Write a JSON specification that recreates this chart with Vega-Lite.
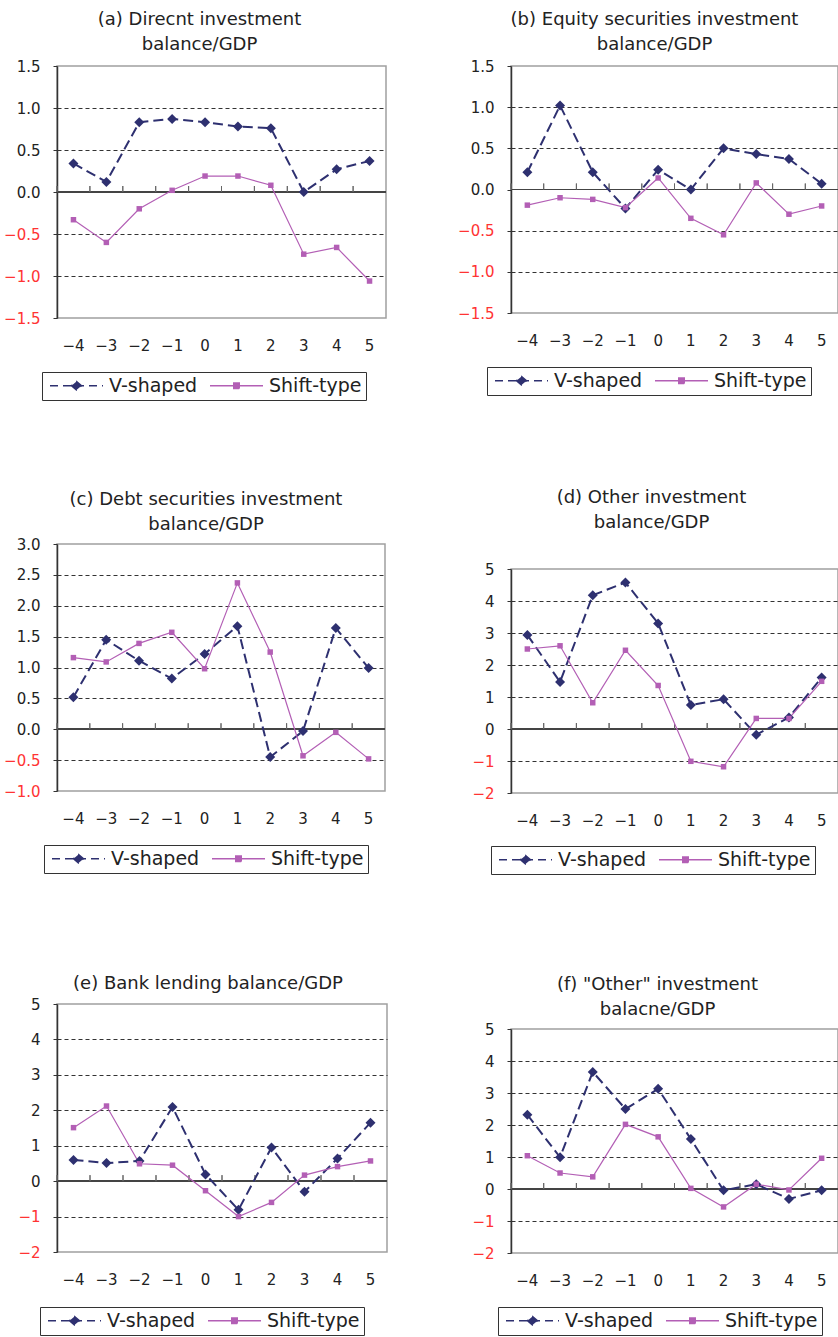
{
"$schema":"https://vega.github.io/schema/vega-lite/v6.json",
"padding":{"left":0,"top":10,"right":0,"bottom":0},
"datasets":{"d":[
{"p":"a","s":"V-shaped","t":-4,"v":0.34},{"p":"a","s":"V-shaped","t":-3,"v":0.12},{"p":"a","s":"V-shaped","t":-2,"v":0.83},{"p":"a","s":"V-shaped","t":-1,"v":0.87},{"p":"a","s":"V-shaped","t":0,"v":0.83},{"p":"a","s":"V-shaped","t":1,"v":0.78},{"p":"a","s":"V-shaped","t":2,"v":0.76},{"p":"a","s":"V-shaped","t":3,"v":0.0},{"p":"a","s":"V-shaped","t":4,"v":0.27},{"p":"a","s":"V-shaped","t":5,"v":0.37},
{"p":"a","s":"Shift-type","t":-4,"v":-0.33},{"p":"a","s":"Shift-type","t":-3,"v":-0.60},{"p":"a","s":"Shift-type","t":-2,"v":-0.20},{"p":"a","s":"Shift-type","t":-1,"v":0.02},{"p":"a","s":"Shift-type","t":0,"v":0.19},{"p":"a","s":"Shift-type","t":1,"v":0.19},{"p":"a","s":"Shift-type","t":2,"v":0.08},{"p":"a","s":"Shift-type","t":3,"v":-0.74},{"p":"a","s":"Shift-type","t":4,"v":-0.66},{"p":"a","s":"Shift-type","t":5,"v":-1.06},
{"p":"b","s":"V-shaped","t":-4,"v":0.21},{"p":"b","s":"V-shaped","t":-3,"v":1.02},{"p":"b","s":"V-shaped","t":-2,"v":0.21},{"p":"b","s":"V-shaped","t":-1,"v":-0.23},{"p":"b","s":"V-shaped","t":0,"v":0.24},{"p":"b","s":"V-shaped","t":1,"v":0.0},{"p":"b","s":"V-shaped","t":2,"v":0.50},{"p":"b","s":"V-shaped","t":3,"v":0.43},{"p":"b","s":"V-shaped","t":4,"v":0.37},{"p":"b","s":"V-shaped","t":5,"v":0.07},
{"p":"b","s":"Shift-type","t":-4,"v":-0.19},{"p":"b","s":"Shift-type","t":-3,"v":-0.10},{"p":"b","s":"Shift-type","t":-2,"v":-0.12},{"p":"b","s":"Shift-type","t":-1,"v":-0.22},{"p":"b","s":"Shift-type","t":0,"v":0.14},{"p":"b","s":"Shift-type","t":1,"v":-0.35},{"p":"b","s":"Shift-type","t":2,"v":-0.55},{"p":"b","s":"Shift-type","t":3,"v":0.08},{"p":"b","s":"Shift-type","t":4,"v":-0.30},{"p":"b","s":"Shift-type","t":5,"v":-0.20},
{"p":"c","s":"V-shaped","t":-4,"v":0.52},{"p":"c","s":"V-shaped","t":-3,"v":1.45},{"p":"c","s":"V-shaped","t":-2,"v":1.11},{"p":"c","s":"V-shaped","t":-1,"v":0.82},{"p":"c","s":"V-shaped","t":0,"v":1.22},{"p":"c","s":"V-shaped","t":1,"v":1.67},{"p":"c","s":"V-shaped","t":2,"v":-0.45},{"p":"c","s":"V-shaped","t":3,"v":-0.03},{"p":"c","s":"V-shaped","t":4,"v":1.64},{"p":"c","s":"V-shaped","t":5,"v":0.99},
{"p":"c","s":"Shift-type","t":-4,"v":1.16},{"p":"c","s":"Shift-type","t":-3,"v":1.09},{"p":"c","s":"Shift-type","t":-2,"v":1.39},{"p":"c","s":"Shift-type","t":-1,"v":1.57},{"p":"c","s":"Shift-type","t":0,"v":0.98},{"p":"c","s":"Shift-type","t":1,"v":2.37},{"p":"c","s":"Shift-type","t":2,"v":1.25},{"p":"c","s":"Shift-type","t":3,"v":-0.43},{"p":"c","s":"Shift-type","t":4,"v":-0.05},{"p":"c","s":"Shift-type","t":5,"v":-0.48},
{"p":"d","s":"V-shaped","t":-4,"v":2.94},{"p":"d","s":"V-shaped","t":-3,"v":1.47},{"p":"d","s":"V-shaped","t":-2,"v":4.18},{"p":"d","s":"V-shaped","t":-1,"v":4.58},{"p":"d","s":"V-shaped","t":0,"v":3.30},{"p":"d","s":"V-shaped","t":1,"v":0.75},{"p":"d","s":"V-shaped","t":2,"v":0.93},{"p":"d","s":"V-shaped","t":3,"v":-0.18},{"p":"d","s":"V-shaped","t":4,"v":0.36},{"p":"d","s":"V-shaped","t":5,"v":1.61},
{"p":"d","s":"Shift-type","t":-4,"v":2.50},{"p":"d","s":"Shift-type","t":-3,"v":2.60},{"p":"d","s":"Shift-type","t":-2,"v":0.82},{"p":"d","s":"Shift-type","t":-1,"v":2.46},{"p":"d","s":"Shift-type","t":0,"v":1.36},{"p":"d","s":"Shift-type","t":1,"v":-1.01},{"p":"d","s":"Shift-type","t":2,"v":-1.18},{"p":"d","s":"Shift-type","t":3,"v":0.33},{"p":"d","s":"Shift-type","t":4,"v":0.33},{"p":"d","s":"Shift-type","t":5,"v":1.49},
{"p":"e","s":"V-shaped","t":-4,"v":0.60},{"p":"e","s":"V-shaped","t":-3,"v":0.51},{"p":"e","s":"V-shaped","t":-2,"v":0.57},{"p":"e","s":"V-shaped","t":-1,"v":2.09},{"p":"e","s":"V-shaped","t":0,"v":0.19},{"p":"e","s":"V-shaped","t":1,"v":-0.81},{"p":"e","s":"V-shaped","t":2,"v":0.95},{"p":"e","s":"V-shaped","t":3,"v":-0.30},{"p":"e","s":"V-shaped","t":4,"v":0.64},{"p":"e","s":"V-shaped","t":5,"v":1.65},
{"p":"e","s":"Shift-type","t":-4,"v":1.51},{"p":"e","s":"Shift-type","t":-3,"v":2.12},{"p":"e","s":"Shift-type","t":-2,"v":0.49},{"p":"e","s":"Shift-type","t":-1,"v":0.45},{"p":"e","s":"Shift-type","t":0,"v":-0.27},{"p":"e","s":"Shift-type","t":1,"v":-1.00},{"p":"e","s":"Shift-type","t":2,"v":-0.60},{"p":"e","s":"Shift-type","t":3,"v":0.17},{"p":"e","s":"Shift-type","t":4,"v":0.41},{"p":"e","s":"Shift-type","t":5,"v":0.57},
{"p":"f","s":"V-shaped","t":-4,"v":2.32},{"p":"f","s":"V-shaped","t":-3,"v":0.99},{"p":"f","s":"V-shaped","t":-2,"v":3.66},{"p":"f","s":"V-shaped","t":-1,"v":2.50},{"p":"f","s":"V-shaped","t":0,"v":3.13},{"p":"f","s":"V-shaped","t":1,"v":1.56},{"p":"f","s":"V-shaped","t":2,"v":-0.04},{"p":"f","s":"V-shaped","t":3,"v":0.15},{"p":"f","s":"V-shaped","t":4,"v":-0.31},{"p":"f","s":"V-shaped","t":5,"v":-0.04},
{"p":"f","s":"Shift-type","t":-4,"v":1.04},{"p":"f","s":"Shift-type","t":-3,"v":0.50},{"p":"f","s":"Shift-type","t":-2,"v":0.38},{"p":"f","s":"Shift-type","t":-1,"v":2.02},{"p":"f","s":"Shift-type","t":0,"v":1.63},{"p":"f","s":"Shift-type","t":1,"v":0.02},{"p":"f","s":"Shift-type","t":2,"v":-0.56},{"p":"f","s":"Shift-type","t":3,"v":0.15},{"p":"f","s":"Shift-type","t":4,"v":-0.03},{"p":"f","s":"Shift-type","t":5,"v":0.96}
]},
"data":{"name":"d"},
"spacing":65,
"resolve":{"scale":{"shape":"independent","fill":"independent","stroke":"independent","strokeDash":"independent"},"legend":{"shape":"independent","fill":"independent","stroke":"independent","strokeDash":"independent"}},
"hconcat":[
{"spacing":99,
"resolve":{"scale":{"shape":"independent","fill":"independent","stroke":"independent","strokeDash":"independent"},"legend":{"shape":"independent","fill":"independent","stroke":"independent","strokeDash":"independent"}},
"vconcat":[
{"spacing":88,
"resolve":{"scale":{"shape":"independent","fill":"independent","stroke":"independent","strokeDash":"independent"},"legend":{"shape":"independent","fill":"independent","stroke":"independent","strokeDash":"independent"}},
"vconcat":[
{"width":329,"height":252,
"title":{"text":["(a) Direcnt investment","balance/GDP"],"dx":-22,"offset":5},
"transform":[{"filter":"datum.p === 'a'"}],
"layer":[
{"mark":{"type":"rule","color":"#444","strokeWidth":1.2},"encoding":{"y":{"datum":0,"type":"quantitative"}}},
{"mark":{"type":"rule","color":"#666","strokeWidth":1,"y2Offset":-6},"encoding":{"x":{"field":"t","type":"ordinal","bandPosition":0},"y":{"datum":0,"type":"quantitative"},"y2":{"datum":0}}},
{"transform":[{"filter":"datum.s === 'V-shaped'"}],"mark":{"type":"line","color":"#2e3070","strokeWidth":2,"strokeDash":[10,5]},
"encoding":{"x":{"field":"t","type":"ordinal","title":null,"scale":{"type":"band","paddingInner":0,"paddingOuter":0},"axis":{"labelExpr":"replace(datum.label, '-', '−')"}},
"y":{"field":"v","type":"quantitative","title":null,"scale":{"domain":[-1.5,1.5],"nice":false,"zero":false},"axis":{"values":[-1.5,-1,-0.5,0,0.5,1,1.5],"tickCount":20,"format":".1f","labelColor":{"condition":{"test":"datum.value < 0","value":"#ff3333"},"value":"#222"},"gridOpacity":{"condition":{"test":"datum.value === 0 || abs(datum.value) === 1.5","value":0},"value":1}}}}},
{"transform":[{"filter":"datum.s === 'Shift-type'"}],"mark":{"type":"line","color":"#b35fb5","strokeWidth":1.2},"encoding":{"x":{"field":"t","type":"ordinal"},"y":{"field":"v","type":"quantitative"}}},
{"transform":[{"filter":"datum.s === 'V-shaped'"}],"mark":{"type":"point","shape":"diamond","filled":true,"size":100,"color":"#2e3070","opacity":1},"encoding":{"x":{"field":"t","type":"ordinal"},"y":{"field":"v","type":"quantitative"}}},
{"transform":[{"filter":"datum.s === 'Shift-type'"}],"mark":{"type":"point","shape":"square","filled":true,"size":30,"color":"#b35fb5","opacity":1},"encoding":{"x":{"field":"t","type":"ordinal"},"y":{"field":"v","type":"quantitative"}}},
{"mark":{"type":"point","filled":true,"opacity":0},"encoding":{"x":{"field":"t","type":"ordinal"},"y":{"field":"v","type":"quantitative"},
"shape":{"field":"s","type":"nominal","scale":{"domain":["V-shaped","Shift-type"],"range":["M-5.3,0L5.3,0M0,-0.85L1,0L0,0.85L-1,0Z","M-5.3,0L5.3,0M-0.55,-0.55L0.55,-0.55L0.55,0.55L-0.55,0.55Z"]},"legend":{"title":null,"legendX":-15,"legendY":306}},
"fill":{"field":"s","type":"nominal","scale":{"domain":["V-shaped","Shift-type"],"range":["#2e3070","#b35fb5"]},"legend":{"title":null,"legendX":-15,"legendY":306}},
"stroke":{"field":"s","type":"nominal","scale":{"domain":["V-shaped","Shift-type"],"range":["#2e3070","#b35fb5"]},"legend":{"title":null,"legendX":-15,"legendY":306}},
"strokeDash":{"field":"s","type":"nominal","scale":{"domain":["V-shaped","Shift-type"],"range":[[8,5],[1,0]]},"legend":{"title":null,"legendX":-15,"legendY":306}}}}
]},
{"width":328,"height":247,
"title":{"text":["(c) Debt securities investment","balance/GDP"],"dx":-15,"offset":3},
"transform":[{"filter":"datum.p === 'c'"}],
"layer":[
{"mark":{"type":"rule","color":"#444","strokeWidth":1.2},"encoding":{"y":{"datum":0,"type":"quantitative"}}},
{"mark":{"type":"rule","color":"#666","strokeWidth":1,"y2Offset":-6},"encoding":{"x":{"field":"t","type":"ordinal","bandPosition":0},"y":{"datum":0,"type":"quantitative"},"y2":{"datum":0}}},
{"transform":[{"filter":"datum.s === 'V-shaped'"}],"mark":{"type":"line","color":"#2e3070","strokeWidth":2,"strokeDash":[10,5]},
"encoding":{"x":{"field":"t","type":"ordinal","title":null,"scale":{"type":"band","paddingInner":0,"paddingOuter":0},"axis":{"labelExpr":"replace(datum.label, '-', '−')"}},
"y":{"field":"v","type":"quantitative","title":null,"scale":{"domain":[-1,3],"nice":false,"zero":false},"axis":{"values":[-1,-0.5,0,0.5,1,1.5,2,2.5,3],"tickCount":20,"format":".1f","labelColor":{"condition":{"test":"datum.value < 0","value":"#ff3333"},"value":"#222"},"gridOpacity":{"condition":{"test":"datum.value === 0 || datum.value === 3 || datum.value === -1","value":0},"value":1}}}}},
{"transform":[{"filter":"datum.s === 'Shift-type'"}],"mark":{"type":"line","color":"#b35fb5","strokeWidth":1.2},"encoding":{"x":{"field":"t","type":"ordinal"},"y":{"field":"v","type":"quantitative"}}},
{"transform":[{"filter":"datum.s === 'V-shaped'"}],"mark":{"type":"point","shape":"diamond","filled":true,"size":100,"color":"#2e3070","opacity":1},"encoding":{"x":{"field":"t","type":"ordinal"},"y":{"field":"v","type":"quantitative"}}},
{"transform":[{"filter":"datum.s === 'Shift-type'"}],"mark":{"type":"point","shape":"square","filled":true,"size":30,"color":"#b35fb5","opacity":1},"encoding":{"x":{"field":"t","type":"ordinal"},"y":{"field":"v","type":"quantitative"}}},
{"mark":{"type":"point","filled":true,"opacity":0},"encoding":{"x":{"field":"t","type":"ordinal"},"y":{"field":"v","type":"quantitative"},
"shape":{"field":"s","type":"nominal","scale":{"domain":["V-shaped","Shift-type"],"range":["M-5.3,0L5.3,0M0,-0.85L1,0L0,0.85L-1,0Z","M-5.3,0L5.3,0M-0.55,-0.55L0.55,-0.55L0.55,0.55L-0.55,0.55Z"]},"legend":{"title":null,"legendX":-13,"legendY":301}},
"fill":{"field":"s","type":"nominal","scale":{"domain":["V-shaped","Shift-type"],"range":["#2e3070","#b35fb5"]},"legend":{"title":null,"legendX":-13,"legendY":301}},
"stroke":{"field":"s","type":"nominal","scale":{"domain":["V-shaped","Shift-type"],"range":["#2e3070","#b35fb5"]},"legend":{"title":null,"legendX":-13,"legendY":301}},
"strokeDash":{"field":"s","type":"nominal","scale":{"domain":["V-shaped","Shift-type"],"range":[[8,5],[1,0]]},"legend":{"title":null,"legendX":-13,"legendY":301}}}}
]}
]},
{"resolve":{"scale":{"shape":"independent","fill":"independent","stroke":"independent","strokeDash":"independent"},"legend":{"shape":"independent","fill":"independent","stroke":"independent","strokeDash":"independent"}},
"vconcat":[
{"width":330,"height":248,
"title":{"text":"(e) Bank lending balance/GDP","dx":-14,"offset":4},
"transform":[{"filter":"datum.p === 'e'"}],
"layer":[
{"mark":{"type":"rule","color":"#444","strokeWidth":1.2},"encoding":{"y":{"datum":0,"type":"quantitative"}}},
{"mark":{"type":"rule","color":"#666","strokeWidth":1,"y2Offset":-6},"encoding":{"x":{"field":"t","type":"ordinal","bandPosition":0},"y":{"datum":0,"type":"quantitative"},"y2":{"datum":0}}},
{"transform":[{"filter":"datum.s === 'V-shaped'"}],"mark":{"type":"line","color":"#2e3070","strokeWidth":2,"strokeDash":[10,5]},
"encoding":{"x":{"field":"t","type":"ordinal","title":null,"scale":{"type":"band","paddingInner":0,"paddingOuter":0},"axis":{"labelExpr":"replace(datum.label, '-', '−')"}},
"y":{"field":"v","type":"quantitative","title":null,"scale":{"domain":[-2,5],"nice":false,"zero":false},"axis":{"values":[-2,-1,0,1,2,3,4,5],"tickCount":20,"format":"d","labelColor":{"condition":{"test":"datum.value < 0","value":"#ff3333"},"value":"#222"},"gridOpacity":{"condition":{"test":"datum.value === 0 || datum.value === 5 || datum.value === -2","value":0},"value":1}}}}},
{"transform":[{"filter":"datum.s === 'Shift-type'"}],"mark":{"type":"line","color":"#b35fb5","strokeWidth":1.2},"encoding":{"x":{"field":"t","type":"ordinal"},"y":{"field":"v","type":"quantitative"}}},
{"transform":[{"filter":"datum.s === 'V-shaped'"}],"mark":{"type":"point","shape":"diamond","filled":true,"size":100,"color":"#2e3070","opacity":1},"encoding":{"x":{"field":"t","type":"ordinal"},"y":{"field":"v","type":"quantitative"}}},
{"transform":[{"filter":"datum.s === 'Shift-type'"}],"mark":{"type":"point","shape":"square","filled":true,"size":30,"color":"#b35fb5","opacity":1},"encoding":{"x":{"field":"t","type":"ordinal"},"y":{"field":"v","type":"quantitative"}}},
{"mark":{"type":"point","filled":true,"opacity":0},"encoding":{"x":{"field":"t","type":"ordinal"},"y":{"field":"v","type":"quantitative"},
"shape":{"field":"s","type":"nominal","scale":{"domain":["V-shaped","Shift-type"],"range":["M-5.3,0L5.3,0M0,-0.85L1,0L0,0.85L-1,0Z","M-5.3,0L5.3,0M-0.55,-0.55L0.55,-0.55L0.55,0.55L-0.55,0.55Z"]},"legend":{"title":null,"legendX":-17,"legendY":303}},
"fill":{"field":"s","type":"nominal","scale":{"domain":["V-shaped","Shift-type"],"range":["#2e3070","#b35fb5"]},"legend":{"title":null,"legendX":-17,"legendY":303}},
"stroke":{"field":"s","type":"nominal","scale":{"domain":["V-shaped","Shift-type"],"range":["#2e3070","#b35fb5"]},"legend":{"title":null,"legendX":-17,"legendY":303}},
"strokeDash":{"field":"s","type":"nominal","scale":{"domain":["V-shaped","Shift-type"],"range":[[8,5],[1,0]]},"legend":{"title":null,"legendX":-17,"legendY":303}}}}
]}
]}
]},
{"spacing":99,
"resolve":{"scale":{"shape":"independent","fill":"independent","stroke":"independent","strokeDash":"independent"},"legend":{"shape":"independent","fill":"independent","stroke":"independent","strokeDash":"independent"}},
"vconcat":[
{"spacing":91,
"resolve":{"scale":{"shape":"independent","fill":"independent","stroke":"independent","strokeDash":"independent"},"legend":{"shape":"independent","fill":"independent","stroke":"independent","strokeDash":"independent"}},
"vconcat":[
{"width":327,"height":247,
"title":{"text":["(b) Equity securities investment","balance/GDP"],"dx":-20,"offset":5},
"transform":[{"filter":"datum.p === 'b'"}],
"layer":[
{"mark":{"type":"rule","color":"#444","strokeWidth":1.2},"encoding":{"y":{"datum":0,"type":"quantitative"}}},
{"mark":{"type":"rule","color":"#666","strokeWidth":1,"y2Offset":-6},"encoding":{"x":{"field":"t","type":"ordinal","bandPosition":0},"y":{"datum":0,"type":"quantitative"},"y2":{"datum":0}}},
{"transform":[{"filter":"datum.s === 'V-shaped'"}],"mark":{"type":"line","color":"#2e3070","strokeWidth":2,"strokeDash":[10,5]},
"encoding":{"x":{"field":"t","type":"ordinal","title":null,"scale":{"type":"band","paddingInner":0,"paddingOuter":0},"axis":{"labelExpr":"replace(datum.label, '-', '−')"}},
"y":{"field":"v","type":"quantitative","title":null,"scale":{"domain":[-1.5,1.5],"nice":false,"zero":false},"axis":{"values":[-1.5,-1,-0.5,0,0.5,1,1.5],"tickCount":20,"format":".1f","labelColor":{"condition":{"test":"datum.value < 0","value":"#ff3333"},"value":"#222"},"gridOpacity":{"condition":{"test":"datum.value === 0 || abs(datum.value) === 1.5","value":0},"value":1}}}}},
{"transform":[{"filter":"datum.s === 'Shift-type'"}],"mark":{"type":"line","color":"#b35fb5","strokeWidth":1.2},"encoding":{"x":{"field":"t","type":"ordinal"},"y":{"field":"v","type":"quantitative"}}},
{"transform":[{"filter":"datum.s === 'V-shaped'"}],"mark":{"type":"point","shape":"diamond","filled":true,"size":100,"color":"#2e3070","opacity":1},"encoding":{"x":{"field":"t","type":"ordinal"},"y":{"field":"v","type":"quantitative"}}},
{"transform":[{"filter":"datum.s === 'Shift-type'"}],"mark":{"type":"point","shape":"square","filled":true,"size":30,"color":"#b35fb5","opacity":1},"encoding":{"x":{"field":"t","type":"ordinal"},"y":{"field":"v","type":"quantitative"}}},
{"mark":{"type":"point","filled":true,"opacity":0},"encoding":{"x":{"field":"t","type":"ordinal"},"y":{"field":"v","type":"quantitative"},
"shape":{"field":"s","type":"nominal","scale":{"domain":["V-shaped","Shift-type"],"range":["M-5.3,0L5.3,0M0,-0.85L1,0L0,0.85L-1,0Z","M-5.3,0L5.3,0M-0.55,-0.55L0.55,-0.55L0.55,0.55L-0.55,0.55Z"]},"legend":{"title":null,"legendX":-24,"legendY":301}},
"fill":{"field":"s","type":"nominal","scale":{"domain":["V-shaped","Shift-type"],"range":["#2e3070","#b35fb5"]},"legend":{"title":null,"legendX":-24,"legendY":301}},
"stroke":{"field":"s","type":"nominal","scale":{"domain":["V-shaped","Shift-type"],"range":["#2e3070","#b35fb5"]},"legend":{"title":null,"legendX":-24,"legendY":301}},
"strokeDash":{"field":"s","type":"nominal","scale":{"domain":["V-shaped","Shift-type"],"range":[[8,5],[1,0]]},"legend":{"title":null,"legendX":-24,"legendY":301}}}}
]},
{"width":327,"height":224,
"title":{"text":["(d) Other investment","balance/GDP"],"dx":-23,"offset":30},
"transform":[{"filter":"datum.p === 'd'"}],
"layer":[
{"mark":{"type":"rule","color":"#444","strokeWidth":1.2},"encoding":{"y":{"datum":0,"type":"quantitative"}}},
{"mark":{"type":"rule","color":"#666","strokeWidth":1,"y2Offset":-6},"encoding":{"x":{"field":"t","type":"ordinal","bandPosition":0},"y":{"datum":0,"type":"quantitative"},"y2":{"datum":0}}},
{"transform":[{"filter":"datum.s === 'V-shaped'"}],"mark":{"type":"line","color":"#2e3070","strokeWidth":2,"strokeDash":[10,5]},
"encoding":{"x":{"field":"t","type":"ordinal","title":null,"scale":{"type":"band","paddingInner":0,"paddingOuter":0},"axis":{"labelExpr":"replace(datum.label, '-', '−')"}},
"y":{"field":"v","type":"quantitative","title":null,"scale":{"domain":[-2,5],"nice":false,"zero":false},"axis":{"values":[-2,-1,0,1,2,3,4,5],"tickCount":20,"format":"d","labelColor":{"condition":{"test":"datum.value < 0","value":"#ff3333"},"value":"#222"},"gridOpacity":{"condition":{"test":"datum.value === 0 || datum.value === 5 || datum.value === -2","value":0},"value":1}}}}},
{"transform":[{"filter":"datum.s === 'Shift-type'"}],"mark":{"type":"line","color":"#b35fb5","strokeWidth":1.2},"encoding":{"x":{"field":"t","type":"ordinal"},"y":{"field":"v","type":"quantitative"}}},
{"transform":[{"filter":"datum.s === 'V-shaped'"}],"mark":{"type":"point","shape":"diamond","filled":true,"size":100,"color":"#2e3070","opacity":1},"encoding":{"x":{"field":"t","type":"ordinal"},"y":{"field":"v","type":"quantitative"}}},
{"transform":[{"filter":"datum.s === 'Shift-type'"}],"mark":{"type":"point","shape":"square","filled":true,"size":30,"color":"#b35fb5","opacity":1},"encoding":{"x":{"field":"t","type":"ordinal"},"y":{"field":"v","type":"quantitative"}}},
{"mark":{"type":"point","filled":true,"opacity":0},"encoding":{"x":{"field":"t","type":"ordinal"},"y":{"field":"v","type":"quantitative"},
"shape":{"field":"s","type":"nominal","scale":{"domain":["V-shaped","Shift-type"],"range":["M-5.3,0L5.3,0M0,-0.85L1,0L0,0.85L-1,0Z","M-5.3,0L5.3,0M-0.55,-0.55L0.55,-0.55L0.55,0.55L-0.55,0.55Z"]},"legend":{"title":null,"legendX":-20,"legendY":277}},
"fill":{"field":"s","type":"nominal","scale":{"domain":["V-shaped","Shift-type"],"range":["#2e3070","#b35fb5"]},"legend":{"title":null,"legendX":-20,"legendY":277}},
"stroke":{"field":"s","type":"nominal","scale":{"domain":["V-shaped","Shift-type"],"range":["#2e3070","#b35fb5"]},"legend":{"title":null,"legendX":-20,"legendY":277}},
"strokeDash":{"field":"s","type":"nominal","scale":{"domain":["V-shaped","Shift-type"],"range":[[8,5],[1,0]]},"legend":{"title":null,"legendX":-20,"legendY":277}}}}
]}
]},
{"resolve":{"scale":{"shape":"independent","fill":"independent","stroke":"independent","strokeDash":"independent"},"legend":{"shape":"independent","fill":"independent","stroke":"independent","strokeDash":"independent"}},
"vconcat":[
{"width":327,"height":224,
"title":{"text":["(f) \"Other\" investment","balacne/GDP"],"dx":-17,"offset":3},
"transform":[{"filter":"datum.p === 'f'"}],
"layer":[
{"mark":{"type":"rule","color":"#444","strokeWidth":1.2},"encoding":{"y":{"datum":0,"type":"quantitative"}}},
{"mark":{"type":"rule","color":"#666","strokeWidth":1,"y2Offset":-6},"encoding":{"x":{"field":"t","type":"ordinal","bandPosition":0},"y":{"datum":0,"type":"quantitative"},"y2":{"datum":0}}},
{"transform":[{"filter":"datum.s === 'V-shaped'"}],"mark":{"type":"line","color":"#2e3070","strokeWidth":2,"strokeDash":[10,5]},
"encoding":{"x":{"field":"t","type":"ordinal","title":null,"scale":{"type":"band","paddingInner":0,"paddingOuter":0},"axis":{"labelExpr":"replace(datum.label, '-', '−')"}},
"y":{"field":"v","type":"quantitative","title":null,"scale":{"domain":[-2,5],"nice":false,"zero":false},"axis":{"values":[-2,-1,0,1,2,3,4,5],"tickCount":20,"format":"d","labelColor":{"condition":{"test":"datum.value < 0","value":"#ff3333"},"value":"#222"},"gridOpacity":{"condition":{"test":"datum.value === 0 || datum.value === 5 || datum.value === -2","value":0},"value":1}}}}},
{"transform":[{"filter":"datum.s === 'Shift-type'"}],"mark":{"type":"line","color":"#b35fb5","strokeWidth":1.2},"encoding":{"x":{"field":"t","type":"ordinal"},"y":{"field":"v","type":"quantitative"}}},
{"transform":[{"filter":"datum.s === 'V-shaped'"}],"mark":{"type":"point","shape":"diamond","filled":true,"size":100,"color":"#2e3070","opacity":1},"encoding":{"x":{"field":"t","type":"ordinal"},"y":{"field":"v","type":"quantitative"}}},
{"transform":[{"filter":"datum.s === 'Shift-type'"}],"mark":{"type":"point","shape":"square","filled":true,"size":30,"color":"#b35fb5","opacity":1},"encoding":{"x":{"field":"t","type":"ordinal"},"y":{"field":"v","type":"quantitative"}}},
{"mark":{"type":"point","filled":true,"opacity":0},"encoding":{"x":{"field":"t","type":"ordinal"},"y":{"field":"v","type":"quantitative"},
"shape":{"field":"s","type":"nominal","scale":{"domain":["V-shaped","Shift-type"],"range":["M-5.3,0L5.3,0M0,-0.85L1,0L0,0.85L-1,0Z","M-5.3,0L5.3,0M-0.55,-0.55L0.55,-0.55L0.55,0.55L-0.55,0.55Z"]},"legend":{"title":null,"legendX":-13,"legendY":278}},
"fill":{"field":"s","type":"nominal","scale":{"domain":["V-shaped","Shift-type"],"range":["#2e3070","#b35fb5"]},"legend":{"title":null,"legendX":-13,"legendY":278}},
"stroke":{"field":"s","type":"nominal","scale":{"domain":["V-shaped","Shift-type"],"range":["#2e3070","#b35fb5"]},"legend":{"title":null,"legendX":-13,"legendY":278}},
"strokeDash":{"field":"s","type":"nominal","scale":{"domain":["V-shaped","Shift-type"],"range":[[8,5],[1,0]]},"legend":{"title":null,"legendX":-13,"legendY":278}}}}
]}
]}
]}
],
"config":{
"font":"DejaVu Sans",
"background":"white",
"view":{"stroke":"#a0a0a0","strokeWidth":1.5},
"axis":{"labelFont":"DejaVu Sans","labelFontSize":15,"labelColor":"#222"},
"axisX":{"grid":false,"domain":false,"ticks":false,"tickSize":0,"labelPadding":27,"labelBaseline":"middle","labelAngle":0},
"axisY":{"grid":true,"gridColor":"#333","gridDash":[4,3],"gridWidth":1,"domainColor":"#333","domainWidth":1.5,"tickColor":"#333","tickSize":4,"labelPadding":13,"minExtent":56},
"title":{"fontSize":18,"fontWeight":"normal","font":"DejaVu Sans","color":"#222","lineHeight":25,"anchor":"middle","frame":"group"},
"legend":{"orient":"none","direction":"horizontal","symbolSize":100,"symbolStrokeWidth":1.5,"symbolOffset":21,"labelOffset":23,"labelFontSize":19,"labelFont":"DejaVu Sans","labelColor":"#222","strokeColor":"#333","fillColor":"#fff","padding":4,"columnPadding":8,"symbolOpacity":1}
}
}
